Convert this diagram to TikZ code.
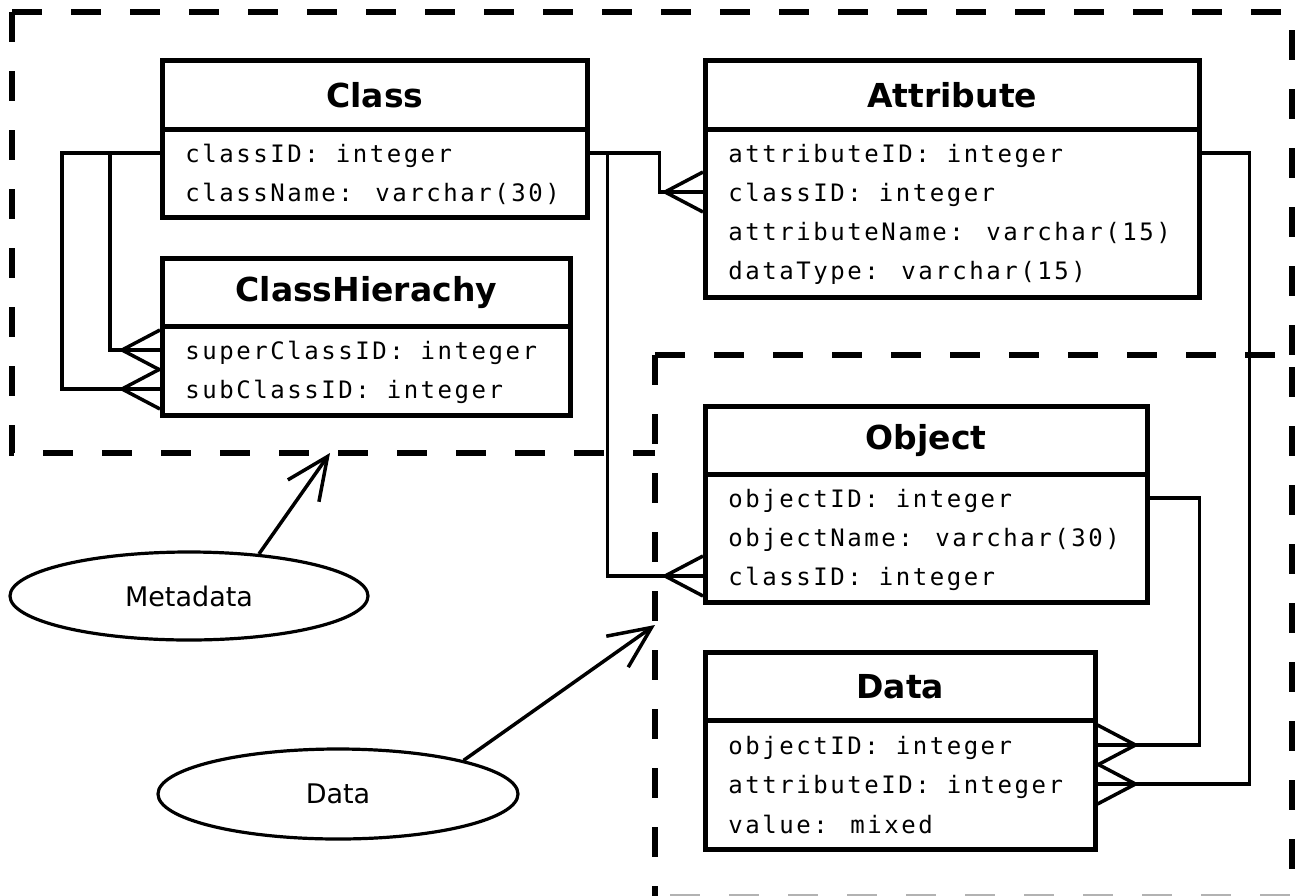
\documentclass[tikz,border=0pt]{standalone}
\usepackage{fontspec}
\setmainfont{DejaVu Sans}
\newfontfamily\fieldfont[LetterSpace=10.6]{DejaVu Sans Mono}
\usepackage{tikz}
\usetikzlibrary{arrows.meta, shapes.geometric}
\tikzset{tblhead/.style={draw, line width=2.25pt, anchor=north west, inner sep=0pt, font=\fontsize{16.5}{20}\selectfont\bfseries}}
\tikzset{tblbody/.style={draw, line width=2.25pt, anchor=north west, inner sep=0pt}}
\tikzset{field/.style={anchor=west, inner sep=0pt, text height=9pt, text depth=0pt, font=\fieldfont\fontsize{12}{14}\selectfont}}
\tikzset{conn/.style={line width=1.75pt}}
\tikzset{region/.style={line width=2.75pt, dash pattern=on 15pt off 14.5pt}}
\tikzset{areaname/.style={draw, ellipse, line width=1.6pt, inner sep=0pt, font=\fontsize{13.5}{16}\selectfont}}
\tikzset{crowfoot/.pic={\draw[conn] (0,0) -- (-38,0) (0,-20) -- (-38,0) -- (0,20);}}

\begin{document}
\begin{tikzpicture}[x=0.5pt, y=-0.5pt]
    \useasboundingbox (0,0) rectangle (1296,895);

    % regions
    \draw[region] (12,12) -- (1292,12) -- (1292,355);
    \draw[region] (12,12) -- (12,453) -- (655,453);
    \draw[region] (655,355) -- (1292,355) -- (1292,897);
    \draw[region] (655,355) -- (655,897);
    \draw[region, gray!60] (670,897) -- (1292,897);

    % Class
    \node[tblhead, minimum width=212.5pt, minimum height=34.5pt] (class) at (160,58) {Class};
    \node[tblbody, minimum width=212.5pt, minimum height=44pt] (class-body) at (160,127) {};
    \node[field] (cls-id) at (185,153) {classID: integer};
    \node[field] (cls-name) at (185,192) {className: varchar(30)};

    % ClassHierachy
    \node[tblhead, minimum width=204pt, minimum height=34pt] (ch) at (160,256) {ClassHierachy};
    \node[tblbody, minimum width=204pt, minimum height=44.5pt] (ch-body) at (160,324) {};
    \node[field] (ch-super) at (185,350) {superClassID: integer};
    \node[field] (ch-sub) at (185,389) {subClassID: integer};

    % Attribute
    \node[tblhead, minimum width=247pt, minimum height=34.5pt] (attr) at (703,58) {Attribute};
    \node[tblbody, minimum width=247pt, minimum height=84pt] (attr-body) at (703,127) {};
    \node[field] (at-id) at (728,153) {attributeID: integer};
    \node[field] (at-cls) at (728,192) {classID: integer};
    \node[field] (at-name) at (728,231) {attributeName: varchar(15)};
    \node[field] (at-type) at (728,270) {dataType: varchar(15)};

    % Object
    \node[tblhead, minimum width=221pt, minimum height=34pt] (obj) at (703,404) {Object};
    \node[tblbody, minimum width=221pt, minimum height=64pt] (obj-body) at (703,472) {};
    \node[field] (ob-id) at (728,498) {objectID: integer};
    \node[field] (ob-name) at (728,537) {objectName: varchar(30)};
    \node[field] (ob-cls) at (728,576) {classID: integer};

    % Data
    \node[tblhead, minimum width=195pt, minimum height=34pt] (data) at (703,650) {Data};
    \node[tblbody, minimum width=195pt, minimum height=64.5pt] (data-body) at (703,718) {};
    \node[field] (da-obj) at (728,745) {objectID: integer};
    \node[field] (da-attr) at (728,784) {attributeID: integer};
    \node[field] (da-val) at (728,824) {value: mixed};

    % relations
    \draw[conn] (class-body.west |- cls-id) -- ++(-98,0) |- (ch-body.west |- ch-sub);
    \draw[conn] (class-body.west |- cls-id) -- ++(-50,0) |- (ch-body.west |- ch-super);
    \draw[conn] (class-body.east |- cls-id) -- ++(70,0) |- (attr-body.west |- at-cls);
    \draw[conn] (class-body.east |- cls-id) -- ++(18,0) |- (obj-body.west |- ob-cls);
    \draw[conn] (attr-body.east |- at-id) -- ++(48,0) |- (data-body.east |- da-attr);
    \draw[conn] (obj-body.east |- ob-id) -- ++(50,0) |- (data-body.east |- da-obj);

    \pic at (ch-body.west |- ch-super) {crowfoot};
    \pic at (ch-body.west |- ch-sub) {crowfoot};
    \pic at (attr-body.west |- at-cls) {crowfoot};
    \pic at (obj-body.west |- ob-cls) {crowfoot};
    \pic[rotate=180] at (data-body.east |- da-obj) {crowfoot};
    \pic[rotate=180] at (data-body.east |- da-attr) {crowfoot};

    % area names
    \node[areaname, minimum width=179pt, minimum height=44pt] (meta) at (189,596) {Metadata};
    \node[areaname, minimum width=180pt, minimum height=45pt] (datae) at (338,794) {Data};
    \coordinate (metaedge) at (330,453);
    \coordinate (dataedge) at (655,625);
    \draw[conn, -{Straight Barb[length=21pt, width=19pt]}] (meta.31) -- (metaedge);
    \draw[conn, -{Straight Barb[length=21pt, width=19pt]}] (datae.15) -- (dataedge);
\end{tikzpicture}
\end{document}
